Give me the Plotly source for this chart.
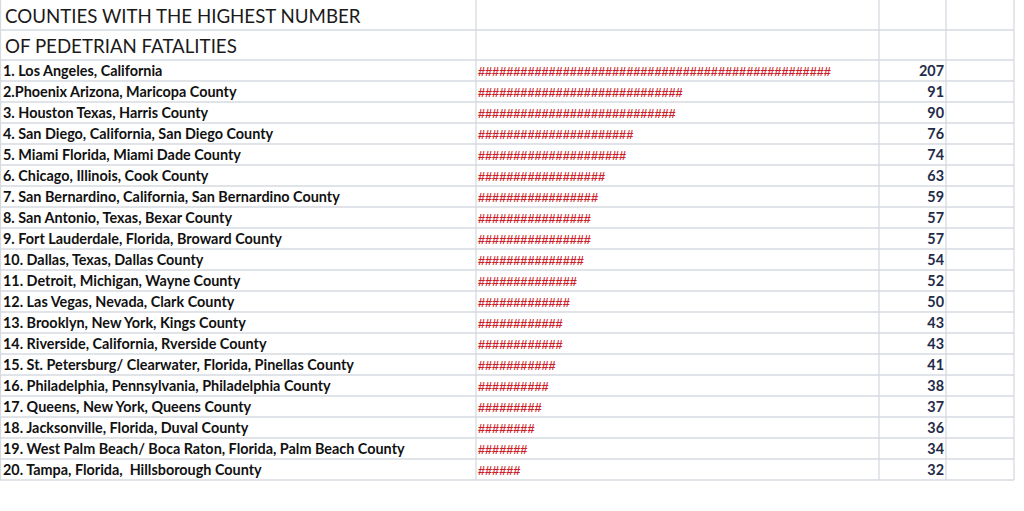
import plotly.graph_objects as go

# ---- data ----
title_lines = ["COUNTIES WITH THE HIGHEST NUMBER", "OF PEDETRIAN FATALITIES"]
counties = [
    "1. Los Angeles, California",
    "2.Phoenix Arizona, Maricopa County",
    "3. Houston Texas, Harris County",
    "4. San Diego, California, San Diego County",
    "5. Miami Florida, Miami Dade County",
    "6. Chicago, Illinois, Cook County",
    "7. San Bernardino, California, San Bernardino County",
    "8. San Antonio, Texas, Bexar County",
    "9. Fort Lauderdale, Florida, Broward County",
    "10. Dallas, Texas, Dallas County",
    "11. Detroit, Michigan, Wayne County",
    "12. Las Vegas, Nevada, Clark County",
    "13. Brooklyn, New York, Kings County",
    "14. Riverside, California, Rverside County",
    "15. St. Petersburg/ Clearwater, Florida, Pinellas County",
    "16. Philadelphia, Pennsylvania, Philadelphia County",
    "17. Queens, New York, Queens County",
    "18. Jacksonville, Florida, Duval County",
    "19. West Palm Beach/ Boca Raton, Florida, Palm Beach County",
    "20. Tampa, Florida,  Hillsborough County",
]
fatalities = [207, 91, 90, 76, 74, 63, 59, 57, 57, 54, 52, 50, 43, 43, 41, 38, 37, 36, 34, 32]
hash_counts = [50, 29, 28, 22, 21, 18, 17, 16, 16, 15, 14, 13, 12, 12, 11, 10, 9, 8, 7, 6]

# ---- layout constants (pixels) ----
W, H = 1024, 511
TITLE_ROW_H = 30
ROW_TOP = 60
ROW_H = 21
TEXT_DY = 2
COL_X = [0.5, 476, 879, 946, 1014]
GRID = "#d6dae1"

n = len(counties)
row_y = [ROW_TOP + ROW_H * (i + 0.5) + TEXT_DY for i in range(n)]
title_y = [TITLE_ROW_H * (i + 0.5) + 3 for i in range(len(title_lines))]
bottom = ROW_TOP + ROW_H * n

fig = go.Figure()

fig.add_trace(go.Scatter(
    x=[5] * len(title_lines), y=title_y, text=title_lines, mode="text",
    textposition="middle right",
    textfont=dict(family="Lato", size=18.7, color="#1a1a1a"),
    hoverinfo="skip", showlegend=False))

fig.add_trace(go.Scatter(
    x=[3] * n, y=row_y, text=counties, mode="text",
    textposition="middle right",
    textfont=dict(family="Lato", size=14.4, color="#111111", weight=700),
    hoverinfo="skip", showlegend=False))

fig.add_trace(go.Scatter(
    x=[478] * n, y=row_y, text=["#" * c for c in hash_counts], mode="text",
    textposition="middle right",
    textfont=dict(family="Liberation Sans", size=12.7, color="#cc1f2b", weight=700),
    hoverinfo="skip", showlegend=False))

fig.add_trace(go.Scatter(
    x=[944] * n, y=row_y, text=[str(v) for v in fatalities], mode="text",
    textposition="middle left",
    textfont=dict(family="Lato", size=14.4, color="#1f2b48", weight=700),
    hoverinfo="skip", showlegend=False))

shapes = []
h_lines = [TITLE_ROW_H, ROW_TOP] + [ROW_TOP + ROW_H * (k + 1) for k in range(n)]
for yv in h_lines:
    shapes.append(dict(type="line", x0=0, x1=COL_X[-1], y0=yv, y1=yv,
                       line=dict(color=GRID, width=1.3), layer="below"))
for xv in COL_X:
    shapes.append(dict(type="line", x0=xv, x1=xv, y0=0, y1=bottom,
                       line=dict(color=GRID, width=1.3), layer="below"))

fig.update_layout(
    width=W, height=H,
    margin=dict(l=0, r=0, t=0, b=0),
    paper_bgcolor="white", plot_bgcolor="white",
    xaxis=dict(range=[0, W], visible=False, fixedrange=True),
    yaxis=dict(range=[H, 0], visible=False, fixedrange=True),
    shapes=shapes,
)

fig.write_html("out.html")
